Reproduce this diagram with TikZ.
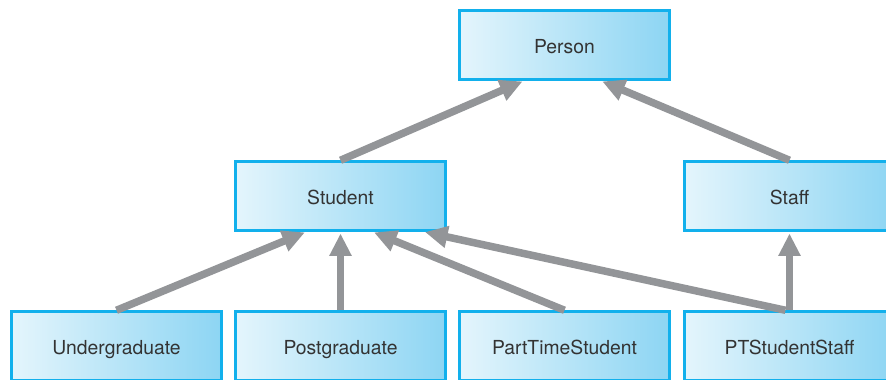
\documentclass[tikz,border=0pt]{standalone}
\usepackage{fontspec}
\setmainfont{TeX Gyre Heros}
\usepackage{tikz}
\usetikzlibrary{arrows.meta,positioning,calc}
\usepackage{xcolor}
\definecolor{boxline}{HTML}{12B0EC}
\definecolor{boxleft}{HTML}{E4F5FC}
\definecolor{boxright}{HTML}{8DD5F3}
\definecolor{linkgray}{HTML}{939598}
\definecolor{labeltext}{HTML}{333333}

\begin{document}
\begin{tikzpicture}[x=0.02cm,y=-0.02cm,
    classbox/.style={draw=boxline,line width=1.4pt,left color=boxleft,right color=boxright,
      minimum width=4.2cm,minimum height=1.38cm,inner sep=0pt,text=labeltext,
      text height=2ex,text depth=0.2ex,
      font=\fontsize{11}{13}\selectfont},
    isa/.style={draw=linkgray,line width=0.15cm,-{Triangle[width=0.42cm,length=0.45cm]},shorten >=1pt}]
    \useasboundingbox (0,0) rectangle (886,379);
    % top level
    \node[classbox] (person) at (564.5,45) {Person};
    % middle level
    \node[classbox] (student) at (340.5,196) {Student};
    \node[classbox] (staff) at (789.5,196) {Staff};
    % bottom level
    \node[classbox] (under) at (116.5,346) {Undergraduate};
    \node[classbox] (post) at (340.5,346) {Postgraduate};
    \node[classbox] (parttime) at (564.5,346) {PartTimeStudent};
    \node[classbox] (ptstaff) at (789.5,346) {PTStudentStaff};
    % generalisation links
    \draw[isa] (student.north) -- ($(person.south west)!0.31!(person.south east)$);
    \draw[isa] (staff.north) -- ($(person.south west)!0.67!(person.south east)$);
    \draw[isa] (under.north) -- ($(student.south west)!0.34!(student.south east)$);
    \draw[isa] (post.north) -- (student.south);
    \draw[isa] (parttime.north) -- ($(student.south west)!0.65!(student.south east)$);
    \draw[isa] ($(ptstaff.north)+(-4,0)$) -- ($(student.south west)!0.89!(student.south east)$);
    \draw[isa] (ptstaff.north) -- (staff.south);
\end{tikzpicture}
\end{document}
